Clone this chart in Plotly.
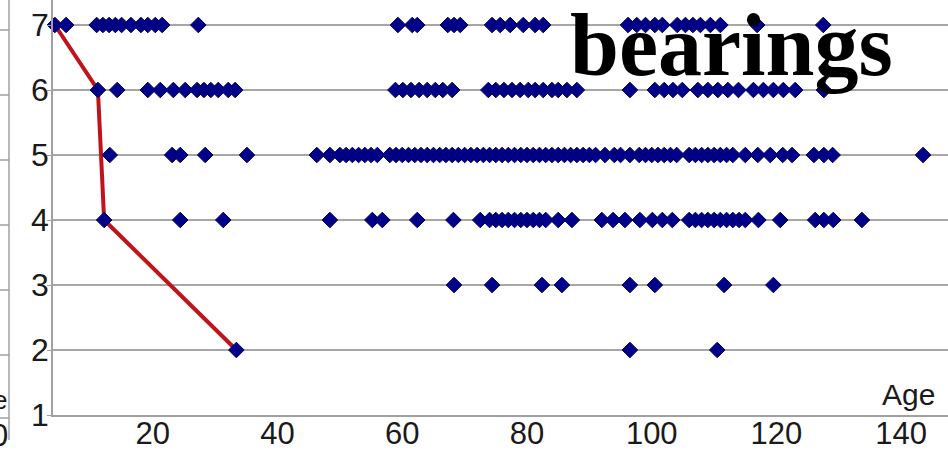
import plotly.graph_objects as go

# Ages (x) observed at each bearing count (y)
ages_7 = [4.3, 6.1, 11, 12, 13, 14, 15, 16.5, 18.1, 19.2, 20.4, 21.5, 27.3,
          59.3, 61.6, 62.4, 67.3, 68.3, 69.3, 74.4, 75.7, 77.3, 79.4, 81.3, 82.6,
          96.2, 97.6, 99.0, 100.5, 101.7, 104.1, 105.4, 106.6, 107.8, 109.4, 111.0,
          116.9, 127.5]
ages_6 = [11.2, 14.3, 19.2, 21.2, 23.3, 25.2, 27.1, 28.2, 29.3, 30.5, 32.1, 33.2,
          58.9, 60.1, 61.4, 62.7, 64.0, 65.3, 66.5, 68.0,
          73.8, 75.0, 76.3, 77.6, 78.9, 80.2, 81.3, 82.6, 84.0, 85.0, 86.4, 88.0,
          96.5, 100.5, 102.0, 103.4, 104.9, 107.4, 109.0, 110.6, 112.2, 113.9,
          116.3, 117.9, 119.5, 121.1, 123.0, 127.6]
ages_5 = [13.1, 23.1, 24.4, 28.4, 35.1, 46.3, 48.4,
          50, 51, 52, 53, 54, 55, 56,
          58, 59, 60, 61, 62, 63, 64, 65, 66, 67, 68, 69, 70, 71, 72, 73,
          74, 75, 76, 77, 78, 79, 80, 81, 82, 83, 84,
          85, 86, 87, 88, 89, 90, 91, 92.5, 94, 95, 96.5,
          98, 99, 100, 101, 102, 103, 104, 106, 107, 108, 109, 110, 111, 112, 113,
          115, 117, 119, 121, 122.5, 126, 127.6, 129, 143.5]
ages_4 = [12.2, 24.4, 31.3, 48.4, 55.2, 56.8, 62.4, 68.2, 72.5,
          74, 75, 76, 77, 78, 79, 80, 81, 82, 83, 85.0, 87.2, 92.0, 93.8,
          95.7, 98.1, 100.1, 101.7, 103.3,
          106, 107, 108, 109, 110, 111, 112, 113, 114, 115, 117.1, 120.6,
          126.2, 127.6, 129.1, 133.7]
ages_3 = [68.3, 74.4, 82.4, 85.6, 96.5, 100.5, 111.6, 119.5]
ages_2 = [33.4, 96.5, 110.5]

# Youngest-age envelope line
env_age = [4.3, 11.2, 12.2, 33.4]
env_bearings = [7, 6, 4, 2]

x_ticks = [20, 40, 60, 80, 100, 120, 140]
y_ticks = [1, 2, 3, 4, 5, 6, 7]

W, H = 948, 451
ML, MB = 53, 36
PW, PH = W - ML, H - MB


def px(x):
    return (x - ML) / PW


def py(y):
    return 1 - y / PH


xs, ys = [], []
for level, ages in [(7, ages_7), (6, ages_6), (5, ages_5), (4, ages_4), (3, ages_3), (2, ages_2)]:
    xs += ages
    ys += [level] * len(ages)

fig = go.Figure()
fig.add_trace(go.Scatter(
    x=env_age, y=env_bearings, mode="lines",
    line=dict(color="#C0141A", width=4), cliponaxis=False, hoverinfo="skip"))
fig.add_trace(go.Scatter(
    x=xs, y=ys, mode="markers", cliponaxis=False,
    marker=dict(symbol="diamond", size=12, color="#00008B",
                line=dict(color="#00005A", width=1))))

font_x = dict(family="Liberation Sans, Arial, sans-serif", size=31, color="#1a1a1a")
font_y = dict(family="Liberation Sans, Arial, sans-serif", size=32, color="#1a1a1a")

fig.update_layout(
    width=W, height=H,
    margin=dict(l=ML, r=0, t=0, b=MB, pad=0, autoexpand=False),
    plot_bgcolor="white", paper_bgcolor="white",
    showlegend=False,
    xaxis=dict(range=[4.0, 147.5], tickvals=x_ticks, showgrid=False, zeroline=False,
               showline=True, linecolor="#A0A0A0", linewidth=1.5, ticks="",
               tickfont=font_x, ticklabelstandoff=-10, automargin=False),
    yaxis=dict(range=[1, 7 + 25 / 65], tickvals=y_ticks, showgrid=True,
               gridcolor="#A6A6A6", gridwidth=1.5, zeroline=False,
               showline=True, linecolor="#A0A0A0", linewidth=1.5,
               ticks="outside", ticklen=4, tickcolor="#A0A0A0",
               tickfont=font_y, ticklabelstandoff=-8, automargin=False),
)

fig.add_annotation(text="<b>bearings</b>", xref="paper", yref="paper",
                   x=px(568), y=py(46), xanchor="left", yanchor="middle",
                   showarrow=False,
                   font=dict(family="Liberation Serif, Times New Roman, serif", size=88, color="black"))
fig.add_annotation(text="Age", xref="paper", yref="paper",
                   x=px(937), y=py(394), xanchor="right", yanchor="middle",
                   showarrow=False, font=dict(family="Liberation Sans, Arial, sans-serif", size=30, color="#1a1a1a"))

# Edge of the neighbouring panel on the left
fig.add_shape(type="line", xref="paper", yref="paper", x0=px(9), x1=px(9), y0=py(0), y1=py(440),
              line=dict(color="#A0A0A0", width=1.5))
for yy in [30, 95, 160, 225, 290, 355, 418]:
    fig.add_shape(type="line", xref="paper", yref="paper", x0=px(0), x1=px(9), y0=py(yy), y1=py(yy),
                  line=dict(color="#A0A0A0", width=1.5))
fig.add_annotation(text="0", xref="paper", yref="paper", x=px(10), y=py(435),
                   xanchor="right", yanchor="middle", showarrow=False, font=font_x)
fig.add_annotation(text="e", xref="paper", yref="paper", x=px(9), y=py(400),
                   xanchor="right", yanchor="middle", showarrow=False,
                   font=dict(family="Liberation Sans, Arial, sans-serif", size=26, color="#1a1a1a"))

fig.write_html("out.html")
